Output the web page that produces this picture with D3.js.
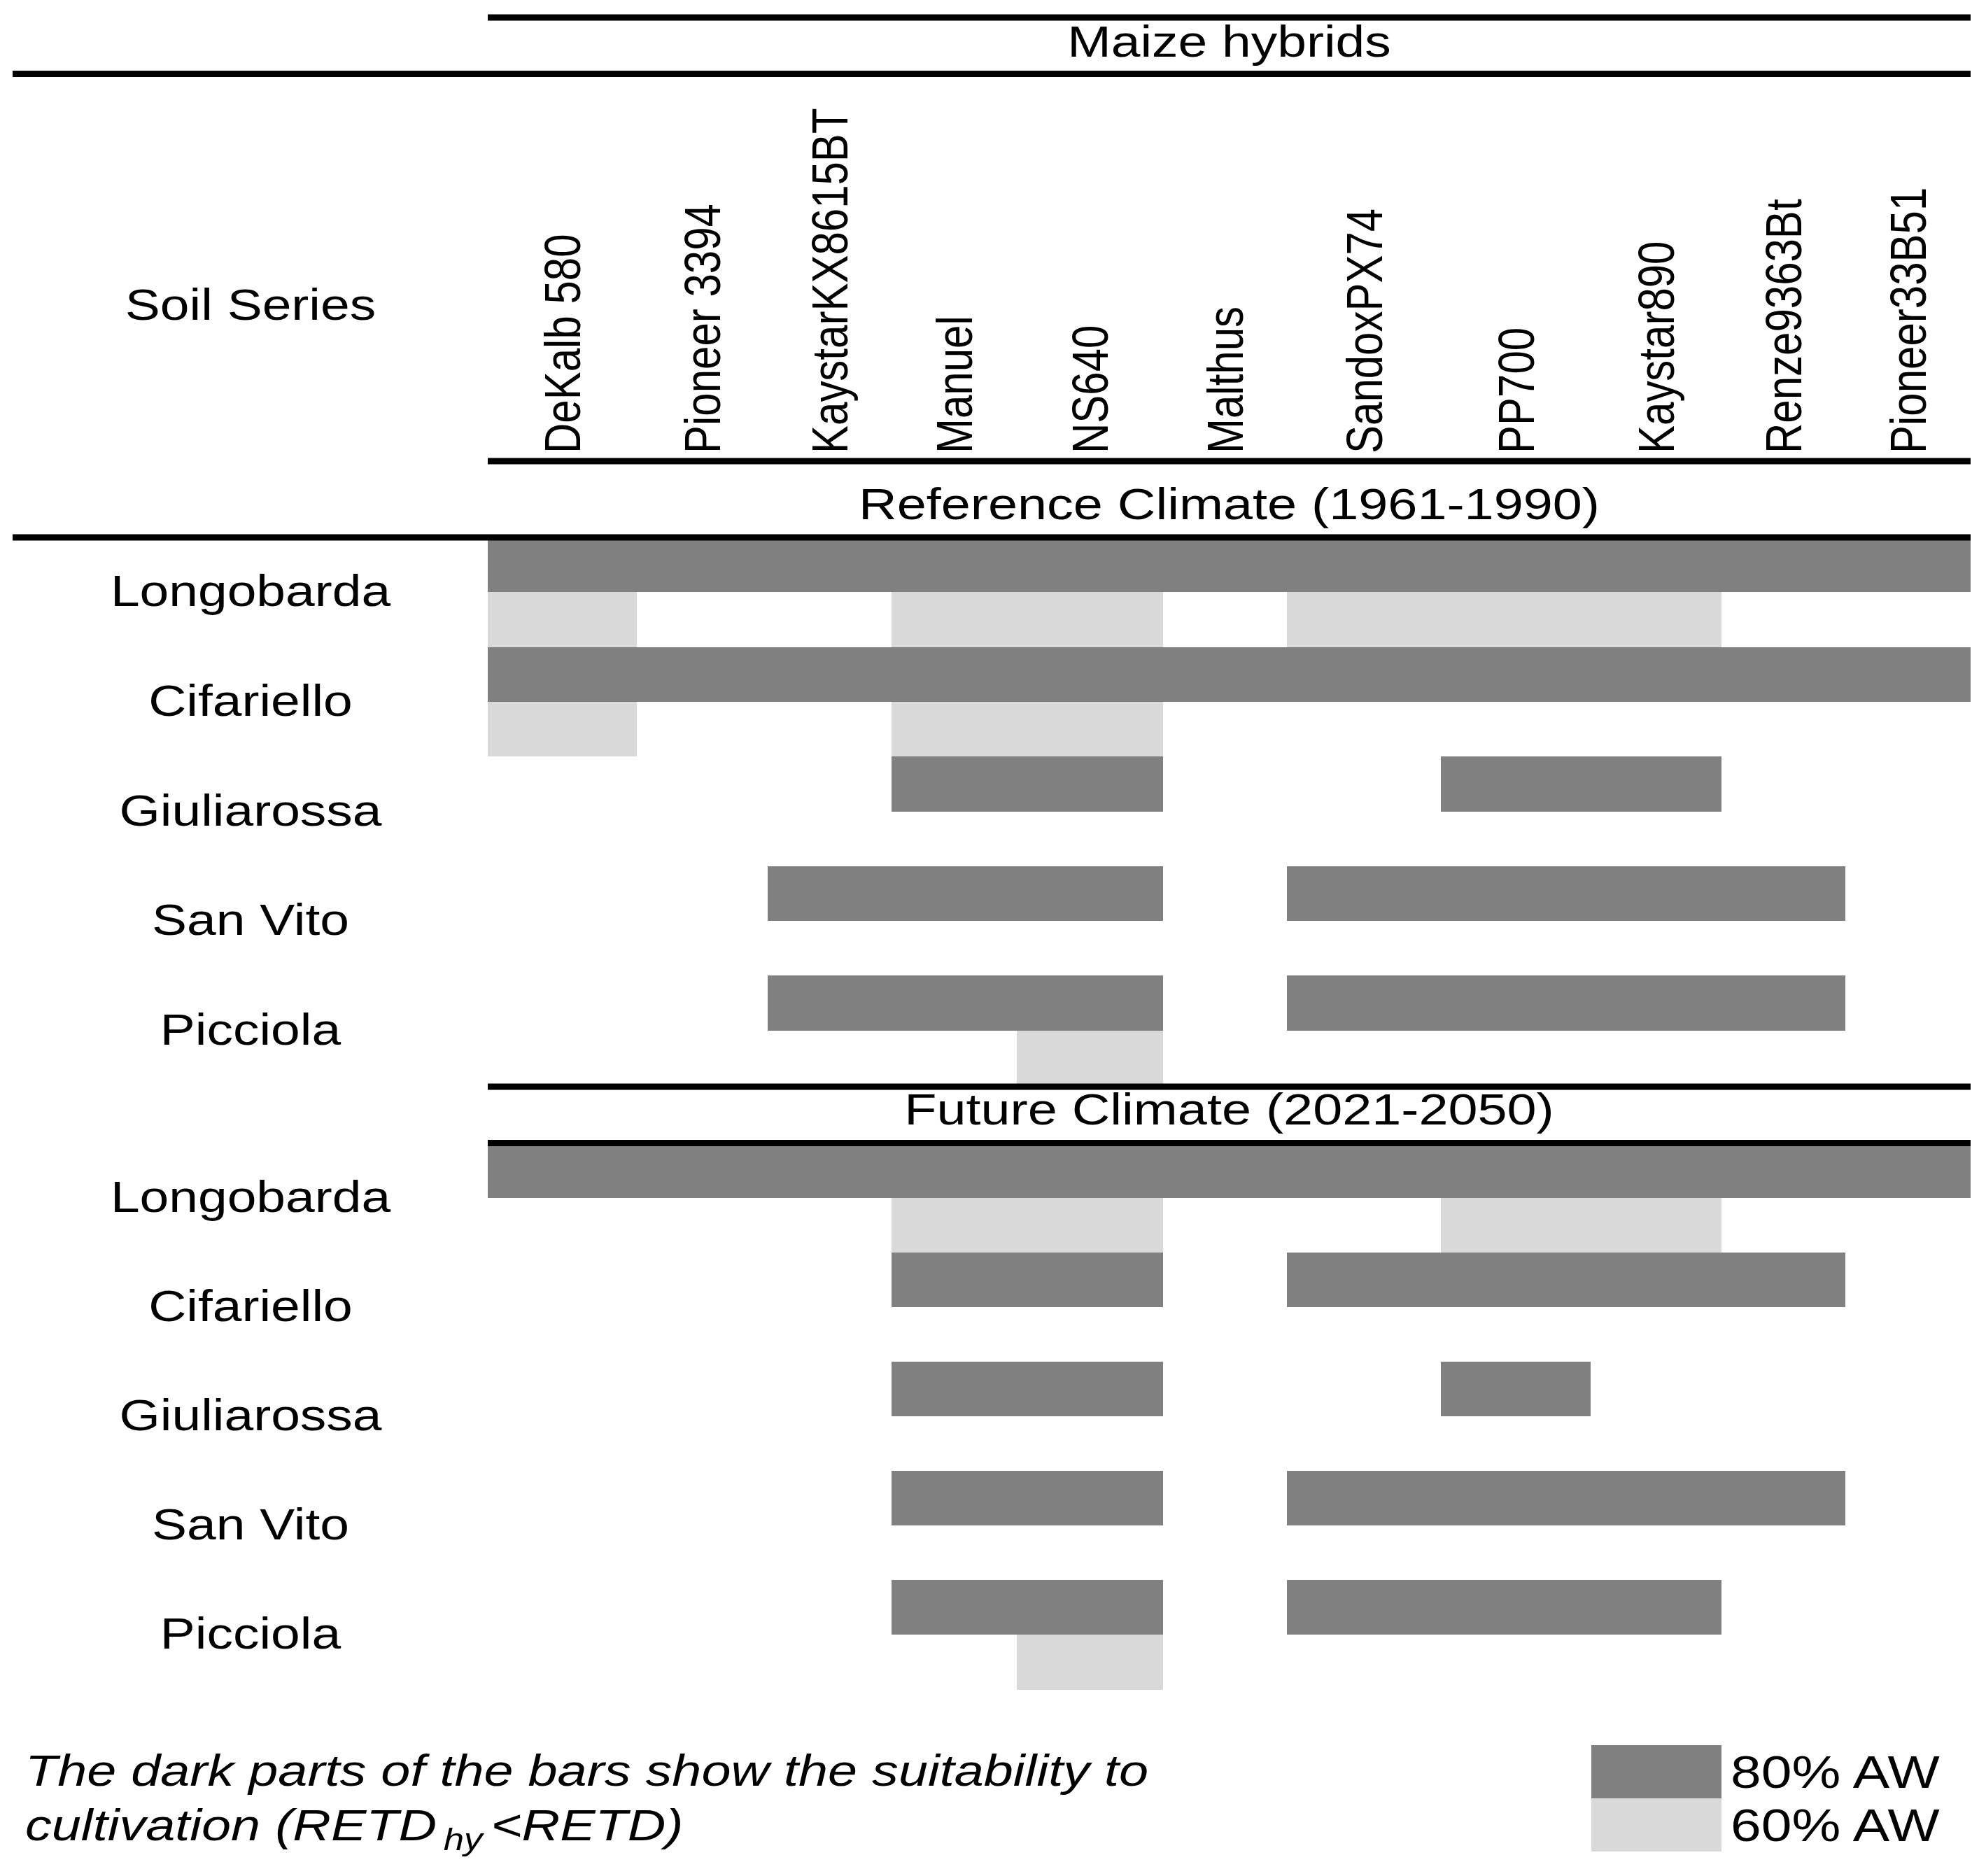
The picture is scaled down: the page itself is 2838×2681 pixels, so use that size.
<!DOCTYPE html>
<html>
<head>
<meta charset="utf-8">
<script src="https://cdn.jsdelivr.net/npm/d3@7"></script>
<style>
  html, body { margin: 0; padding: 0; background: #fff; }
  svg { display: block; }
  text { font-family: "Liberation Sans", Arial, Helvetica, sans-serif; fill: #000; }
</style>
</head>
<body>
<script>
// ---------------- DATA ----------------
const hybrids = ["DeKalb 580", "Pioneer 3394", "KaystarKX8615BT", "Manuel", "NS640", "Malthus",
                 "SandoxPX74", "PP700", "Kaystar890", "Renze9363Bt", "Pioneer33B51"];
const soils = ["Longobarda", "Cifariello", "Giuliarossa", "San Vito", "Picciola"];
const periods = ["Reference Climate (1961-1990)", "Future Climate (2021-2050)"];
const levels = ["80% AW", "60% AW"];

// suitability (1 = RETDhy < RETD) per soil (rows) and hybrid (columns)
const reference80 = [
  [1,1,1,1,1,1,1,1,1,1,1],
  [1,1,1,1,1,1,1,1,1,1,1],
  [0,0,0,1,1,0,0,1,1,0,0],
  [0,0,1,1,1,0,1,1,1,1,0],
  [0,0,1,1,1,0,1,1,1,1,0]
];
const reference60 = [
  [1,0,0,1,1,0,1,1,1,0,0],
  [1,0,0,1,1,0,0,0,0,0,0],
  [0,0,0,0,0,0,0,0,0,0,0],
  [0,0,0,0,0,0,0,0,0,0,0],
  [0,0,0,0,1,0,0,0,0,0,0]
];
const future80 = [
  [1,1,1,1,1,1,1,1,1,1,1],
  [0,0,0,1,1,0,1,1,1,1,0],
  [0,0,0,1,1,0,0,1,0,0,0],
  [0,0,0,1,1,0,1,1,1,1,0],
  [0,0,0,1,1,0,1,1,1,0,0]
];
const future60 = [
  [0,0,0,1,1,0,0,1,1,0,0],
  [0,0,0,0,0,0,0,0,0,0,0],
  [0,0,0,0,0,0,0,0,0,0,0],
  [0,0,0,0,0,0,0,0,0,0,0],
  [0,0,0,0,1,0,0,0,0,0,0]
];
const headerTitle = "Maize hybrids";
const rowTitle = "Soil Series";
const noteLine1 = "The dark parts of the bars show the suitability to";
const noteLine2a = "cultivation (RETD";
const noteSub = "hy";
const noteLine2b = "<RETD)";

// ---------------- LAYOUT ----------------
const W = 2838, H = 2681;
const SX = 1.19;          // horizontal stretch of the original artwork
const FS = 63, FSR = 60;  // font sizes
const colorDark = "#808080", colorLight = "#d9d9d9";
const LW = 9;

const svg = d3.select("body").append("svg").attr("width", W).attr("height", H);

// column edges (hybrid columns are of slightly different widths in the original)
const colEdges = [697, 910, 1097, 1274, 1453, 1662, 1839, 2059, 2273, 2460, 2637, 2816];
const x = d3.scaleLinear().domain(d3.range(hybrids.length + 1)).range(colEdges);
const xLeft = 697, xRight = 2816, xFull = 18;
const xMid = (xLeft + xRight) / 2;

const yRef = d3.scaleBand().domain(soils).range([768, 1551]);
const yFut = d3.scaleBand().domain(soils).range([1633.5, 2414.5]);

function runs(row) {
  const out = []; let s = -1;
  row.forEach((v, j) => {
    if (v && s < 0) s = j;
    if ((!v || j === row.length - 1) && s >= 0) { out.push([s, v ? j + 1 : j]); s = -1; }
  });
  return out;
}

function drawBlock(yScale, m80, m60) {
  const g = svg.append("g").attr("shape-rendering", "crispEdges");
  const bw = yScale.bandwidth();
  [[m80, 0, colorDark], [m60, 1, colorLight]].forEach(([m, half, col]) => {
    const segs = [];
    m.forEach((row, i) => runs(row).forEach(r => segs.push({ soil: soils[i], a: r[0], b: r[1] })));
    g.selectAll(null).data(segs).join("rect")
      .attr("x", d => x(d.a))
      .attr("width", d => x(d.b) - x(d.a))
      .attr("y", d => yScale(d.soil) + half * bw / 2)
      .attr("height", bw / 2)
      .attr("fill", col);
  });
  // soil labels
  svg.append("g").selectAll(null).data(soils).join("text")
    .attr("transform", d => `translate(358,${yScale(d) + bw / 2 + 20}) scale(${SX},1)`)
    .attr("text-anchor", "middle")
    .attr("font-size", FS)
    .text(d => d);
}

drawBlock(yRef, reference80, reference60);
drawBlock(yFut, future80, future60);

// rule lines
const rules = [
  { y: 25, x1: xLeft }, { y: 105.5, x1: xFull }, { y: 659, x1: xLeft },
  { y: 768, x1: xFull }, { y: 1553, x1: xLeft }, { y: 1633.5, x1: xLeft }
];
svg.append("g").selectAll(null).data(rules).join("line")
  .attr("x1", d => d.x1).attr("x2", xRight)
  .attr("y1", d => d.y).attr("y2", d => d.y)
  .attr("stroke", "#000").attr("stroke-width", LW);

function htext(str, tx, ty, anchor, opts = {}) {
  return svg.append("text")
    .attr("transform", `translate(${tx},${ty}) scale(${opts.sx || SX},1)`)
    .attr("text-anchor", anchor)
    .attr("font-size", opts.size || FS)
    .attr("font-style", opts.italic ? "italic" : null)
    .text(str);
}

htext(headerTitle, xMid, 81, "middle");
htext(rowTitle, 358, 457, "middle");
htext(periods[0], xMid, 742, "middle", { sx: 1.2 });
htext(periods[1], xMid, 1607, "middle", { sx: 1.2 });

// hybrid labels (rotated)
const capR = FSR * 0.716 * SX;
svg.append("g").selectAll(null).data(hybrids).join("text")
  .attr("transform", (d, i) => `translate(${(x(i) + x(i + 1)) / 2 + capR / 2},648) scale(${SX},1) rotate(-90)`)
  .attr("text-anchor", "start")
  .attr("font-size", FSR)
  .text(d => d);

// footnote
htext(noteLine1, 36, 2552, "start", { italic: true, sx: 1.2 });
const t2 = htext(noteLine2a, 36, 2630, "start", { italic: true, sx: 1.2 });
t2.text(null);
t2.append("tspan").text(noteLine2a);
t2.append("tspan").attr("dx", 8).attr("dy", 14).attr("font-size", 44).text(noteSub);
t2.append("tspan").attr("dx", 10).attr("dy", -14).text(noteLine2b);

// legend
const lg = svg.append("g");
const legY = d3.scaleBand().domain(levels).range([2494, 2646]);
lg.selectAll("rect").data(levels).join("rect")
  .attr("x", 2274).attr("width", 186)
  .attr("y", d => legY(d)).attr("height", legY.bandwidth())
  .attr("fill", (d, i) => i === 0 ? colorDark : colorLight)
  .attr("shape-rendering", "crispEdges");
levels.forEach(l => htext(l, 2473, legY(l) + legY.bandwidth() / 2 + 23, "start", { size: 65, sx: 1.21 }));
</script>
</body>
</html>
